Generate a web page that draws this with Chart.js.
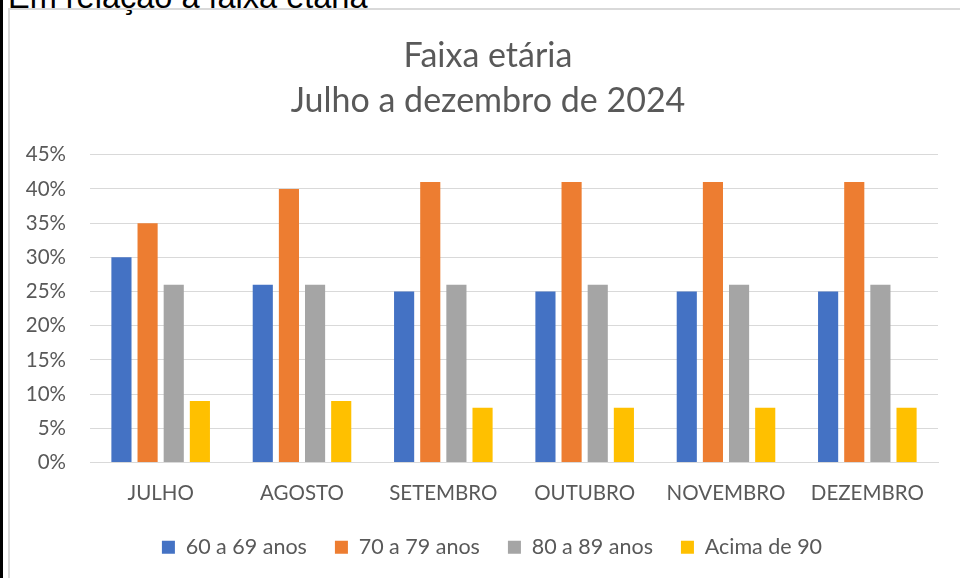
<!DOCTYPE html>
<html>
<head>
<meta charset="utf-8">
<script src="https://cdn.jsdelivr.net/npm/chart.js@4"></script>
<style>
    html, body { margin: 0; padding: 0; background: #ffffff; overflow: hidden; }
    body { width: 960px; height: 578px; position: relative; }
    .barra { position: absolute; left: 0; top: 0; width: 3px; height: 578px; background: #000; }
    .cabecalho { position: absolute; left: 8px; top: -21px; font: 32.5px "Liberation Sans", Arial, sans-serif; color: #000; white-space: nowrap; }
    .moldura { position: absolute; left: 8px; top: 8px; width: 970px; height: 590px; border: 2px solid #d9d9d9; box-sizing: border-box; }
    .area { position: absolute; left: 10px; top: 10px; width: 950px; height: 568px; }
</style>
</head>
<body>
<div class="barra"></div>
<div class="cabecalho">Em relação à faixa etária</div>
<div class="moldura"></div>
<div class="area"><canvas id="faixaChart"></canvas></div>

<script>
// Dados do gráfico
const meses = ['JULHO', 'AGOSTO', 'SETEMBRO', 'OUTUBRO', 'NOVEMBRO', 'DEZEMBRO'];
const faixa60 = [30, 26, 25, 25, 25, 25];
const faixa70 = [35, 40, 41, 41, 41, 41];
const faixa80 = [26, 26, 26, 26, 26, 26];
const faixa90 = [9, 9, 8, 8, 8, 8];
const nomesSeries = ['60 a 69 anos', '70 a 79 anos', '80 a 89 anos', 'Acima de 90'];
const cores = ['#4472c4', '#ed7d31', '#a5a5a5', '#ffc000'];
const ticksY = [0, 5, 10, 15, 20, 25, 30, 35, 40, 45];

const fonte = "Lato, 'Open Sans', sans-serif";
const cinzaTexto = '#595959';

function serie(i, dados) {
    return {
        label: nomesSeries[i],
        data: dados,
        backgroundColor: cores[i],
        borderWidth: 0,
        barPercentage: 0.77,
        categoryPercentage: 0.74
    };
}

// empurra legenda e título um pouco para a direita (como no Excel)
const deslocaBlocos = {
    id: 'deslocaBlocos',
    afterLayout(chart) {
        if (chart.legend) {
            chart.legend.left += 18;
            chart.legend.right += 18;
        }
        if (chart.titleBlock) {
            chart.titleBlock.left += 14;
            chart.titleBlock.right += 14;
        }
    }
};

function renderFaixaChart() {
    const ctx = document.getElementById('faixaChart');
    if (!ctx) return;

    new Chart(ctx, {
        type: 'bar',
        data: {
            labels: meses,
            datasets: [
                serie(0, faixa60),
                serie(1, faixa70),
                serie(2, faixa80),
                serie(3, faixa90)
            ]
        },
        options: {
            responsive: true,
            maintainAspectRatio: false,
            animation: false,
            layout: { padding: { left: 0, right: 22, top: 0, bottom: 10 } },
            plugins: {
                title: {
                    display: true,
                    text: ['Faixa etária', 'Julho a dezembro de 2024'],
                    color: cinzaTexto,
                    font: { family: fonte, size: 34, weight: 'normal', lineHeight: 1.32 },
                    padding: { top: 24, bottom: 31 }
                },
                legend: {
                    position: 'bottom',
                    labels: {
                        color: cinzaTexto,
                        font: { family: fonte, size: 21.5 },
                        boxWidth: 13,
                        boxHeight: 13,
                        padding: 28
                    }
                },
                tooltip: { enabled: false }
            },
            scales: {
                x: {
                    grid: { display: false, drawTicks: false },
                    border: { display: true, color: '#d9d9d9', width: 1 },
                    afterFit: axis => { axis.height = 46; },
                    ticks: { color: cinzaTexto, font: { family: fonte, size: 20.5 }, padding: 19 }
                },
                y: {
                    min: 0,
                    max: 45,
                    afterBuildTicks: axis => { axis.ticks = ticksY.map(v => ({ value: v })); },
                    afterFit: axis => { axis.width = 80; },
                    grid: { color: '#d9d9d9', lineWidth: 1, drawTicks: false },
                    border: { display: false },
                    ticks: {
                        color: cinzaTexto,
                        font: { family: fonte, size: 20.5 },
                        padding: 24,
                        callback: v => v + '%'
                    }
                }
            }
        },
        plugins: [deslocaBlocos]
    });
}

document.addEventListener('DOMContentLoaded', () => {
    renderFaixaChart();
});
</script>
</body>
</html>
